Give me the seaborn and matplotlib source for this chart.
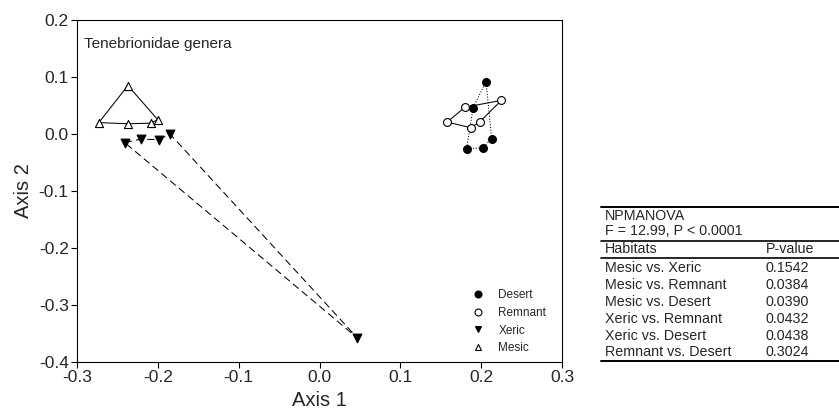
import numpy as np
import pandas as pd
import matplotlib
matplotlib.use("Agg")
import matplotlib.pyplot as plt
from matplotlib.lines import Line2D
from matplotlib.ticker import FormatStrFormatter
import seaborn as sns

# NMDS ordination scores, one closed polygon per habitat (points in drawing order)
desert_x = [0.206, 0.190, 0.182, 0.202, 0.213]
desert_y = [0.092, 0.046, -0.026, -0.024, -0.008]
remnant_x = [0.158, 0.180, 0.225, 0.198, 0.187]
remnant_y = [0.021, 0.047, 0.059, 0.021, 0.011]
xeric_x = [-0.241, -0.221, -0.199, -0.185, 0.047]
xeric_y = [-0.015, -0.009, -0.010, 0.000, -0.358]
mesic_x = [-0.237, -0.273, -0.237, -0.209, -0.200]
mesic_y = [0.085, 0.020, 0.018, 0.019, 0.025]

xticks = [-0.3, -0.2, -0.1, 0.0, 0.1, 0.2, 0.3]
yticks = [-0.4, -0.3, -0.2, -0.1, 0.0, 0.1, 0.2]

pairs = ["Mesic vs. Xeric", "Mesic vs. Remnant", "Mesic vs. Desert",
         "Xeric vs. Remnant", "Xeric vs. Desert", "Remnant vs. Desert"]
pvals = ["0.1542", "0.0384", "0.0390", "0.0432", "0.0438", "0.3024"]

sns.set_style("ticks")
plt.rcParams["font.family"] = ["Liberation Sans", "DejaVu Sans"]

fig = plt.figure(figsize=(8.39, 4.18), dpi=100)
ax = fig.add_axes([77 / 839, 1 - 362 / 418, (562 - 77) / 839, (362 - 20) / 418])

groups = [
    ("Desert", desert_x, desert_y, "o", "black", ":", 32),
    ("Remnant", remnant_x, remnant_y, "o", "white", "-", 32),
    ("Xeric", xeric_x, xeric_y, "v", "black", (0, (7, 4)), 40),
    ("Mesic", mesic_x, mesic_y, "^", "white", "-", 34),
]
handles = []
for name, xs, ys, mk, fc, ls, sz in groups:
    path = pd.DataFrame({"x": xs + xs[:1], "y": ys + ys[:1]})
    sns.lineplot(data=path, x="x", y="y", sort=False, estimator=None, ax=ax,
                 color="black", lw=0.75, linestyle=ls)
    pts = pd.DataFrame({"x": xs, "y": ys})
    sns.scatterplot(data=pts, x="x", y="y", ax=ax, marker=mk, s=sz,
                    facecolor=fc, edgecolor="black", linewidth=0.8, zorder=3)
    handles.append(Line2D([], [], ls="none", marker=mk, mfc=fc, mec="black",
                          mew=0.8, ms=5, label=name))

ax.set_xlim(-0.3, 0.3)
ax.set_ylim(-0.4, 0.2)
ax.set_xticks(xticks)
ax.set_yticks(yticks)
ax.xaxis.set_major_formatter(FormatStrFormatter("%.1f"))
ax.yaxis.set_major_formatter(FormatStrFormatter("%.1f"))
ax.tick_params(labelsize=12.5, length=4, width=0.8, color="black", pad=2)
for s in ax.spines.values():
    s.set_linewidth(0.8)
    s.set_color("black")
ax.set_xlabel("Axis 1", fontsize=14.5, labelpad=4)
ax.set_ylabel("Axis 2", fontsize=14.5, labelpad=4)
ax.text(0.015, 0.95, "Tenebrionidae genera", transform=ax.transAxes,
        fontsize=11, va="top", ha="left")
ax.legend(handles=handles, loc="lower left", bbox_to_anchor=(0.813, 0.022),
          frameon=False, fontsize=8.5, handletextpad=1.1, labelspacing=0.5,
          borderaxespad=0, borderpad=0, handlelength=1.2)

# results table at the right
def fx(px):
    return px / 839

def fy(py):
    return 1 - py / 418

def rule(py, lw):
    fig.add_artist(Line2D([fx(601), 1.0], [fy(py), fy(py)], color="black", lw=lw))

fs = 10.3
rule(207, 1.4)
fig.text(fx(605), fy(216), "NPMANOVA", fontsize=fs, va="center")
fig.text(fx(605), fy(231), "F = 12.99, P < 0.0001", fontsize=fs, va="center")
rule(241, 1.2)
fig.text(fx(605), fy(249), "Habitats", fontsize=fs, va="center")
fig.text(fx(766), fy(249), "P-value", fontsize=fs, va="center")
rule(258, 1.2)
for i, (p, v) in enumerate(zip(pairs, pvals)):
    yy = 268.5 + i * 16.8
    fig.text(fx(605), fy(yy), p, fontsize=fs, va="center")
    fig.text(fx(766), fy(yy), v, fontsize=fs, va="center")
rule(361, 1.4)

fig.savefig("out.png", dpi=100)
